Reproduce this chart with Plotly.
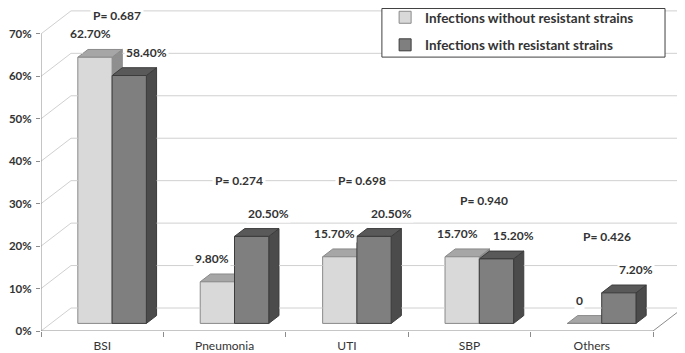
import plotly.graph_objects as go

# ---------------- data ----------------
categories = ["BSI", "Pneumonia", "UTI", "SBP", "Others"]
without_resistant = [62.7, 9.8, 15.7, 15.7, 0.0]
with_resistant = [58.4, 20.5, 20.5, 15.2, 7.2]
labels_without = ["62.70%", "9.80%", "15.70%", "15.70%", "0"]
labels_with = ["58.40%", "20.50%", "20.50%", "15.20%", "7.20%"]
p_values = ["0.687", "0.274", "0.698", "0.940", "0.426"]
y_ticks = [0, 10, 20, 30, 40, 50, 60, 70]
series_names = ["Infections without resistant strains", "Infections with resistant strains"]

# ---------------- 3-D look (pseudo perspective) ----------------
DX = 0.245    # depth offset along x (category units)
DY = 5.42     # depth offset along y (percent units)
F0, F1 = 0.33, 0.67   # bar front / back depth fraction
W = 0.28      # bar width
YMAX = 76.1
FONT = "Lato"
xs = list(range(len(categories)))
x_lo, x_hi = -0.5, len(categories) - 0.5
bd = F1 - F0
ex, ey = bd * DX, bd * DY

styles = [
    dict(front="#d9d9d9", top="#a6a6a6", side="#8f8f8f", line="#8a8a8a", offset=-W + F0 * DX, shift=-10),
    dict(front="#7f7f7f", top="#595959", side="#4b4b4b", line="#3c3c3c", offset=F0 * DX, shift=12),
]
series_values = [without_resistant, with_resistant]
series_labels = [labels_without, labels_with]

fig = go.Figure()
shapes = []
GRID = "#d0d0d0"
AXIS = "#8c8c8c"


def poly(pts, close=True):
    return "M " + " L ".join(f"{px},{py}" for px, py in pts) + (" Z" if close else "")


# bar geometry (front face rect, in data units)
bars = []
for i, xc in enumerate(xs):
    for s, st in enumerate(styles):
        v = series_values[s][i]
        xl = xc + st["offset"]
        bars.append(dict(xl=xl, xr=xl + W, b=F0 * DY, t=v + F0 * DY, st=st))

# back wall grid lines: only the parts not hidden behind the bars
for v in y_ticks:
    h = v + DY
    cover = []
    for bar in bars:
        smin = max(0.0, (h - bar["t"]) / ey)
        smax = min(1.0, (h - bar["b"]) / ey)
        if smin <= smax:
            cover.append((bar["xl"] + smin * ex, bar["xr"] + smax * ex))
    cover.sort()
    start = x_lo + DX
    for a, c in cover:
        if a > start:
            shapes.append(dict(type="line", xref="x", yref="y", layer="above",
                               x0=start, x1=a, y0=h, y1=h, line=dict(color=GRID, width=1)))
        start = max(start, c)
    if start < x_hi + DX:
        shapes.append(dict(type="line", xref="x", yref="y", layer="above",
                           x0=start, x1=x_hi + DX, y0=h, y1=h, line=dict(color=GRID, width=1)))
    # left wall diagonal
    shapes.append(dict(type="line", xref="x", yref="y", layer="above",
                       x0=x_lo, y0=v, x1=x_lo + DX, y1=v + DY, line=dict(color=GRID, width=1)))

# front axis lines and floor right edge
axis_path = poly([(x_lo, max(y_ticks)), (x_lo, 0), (x_hi, 0), (x_hi + DX, DY)], close=False)
shapes.append(dict(type="path", xref="x", yref="y", layer="above", path=axis_path,
                   line=dict(color=AXIS, width=1)))

# legend frame
shapes.append(dict(type="rect", xref="paper", yref="paper", layer="above",
                   x0=0.531, x1=0.972, y0=0.848, y1=0.9985,
                   fillcolor="white", line=dict(color="#404040", width=1)))

# bar top and side faces
for bar in bars:
    xl, xr, b, t, st = bar["xl"], bar["xr"], bar["b"], bar["t"], bar["st"]
    top = [(xl, t), (xr, t), (xr + ex, t + ey), (xl + ex, t + ey)]
    side = [(xr, b), (xr, t), (xr + ex, t + ey), (xr + ex, b + ey)]
    shapes.append(dict(type="path", xref="x", yref="y", layer="between", path=poly(side),
                       fillcolor=st["side"], line=dict(color=st["line"], width=1)))
    shapes.append(dict(type="path", xref="x", yref="y", layer="between", path=poly(top),
                       fillcolor=st["top"], line=dict(color=st["line"], width=1)))

for s, st in enumerate(styles):
    fig.add_trace(go.Bar(
        x=xs, y=series_values[s], base=F0 * DY, offset=st["offset"], width=W,
        name=series_names[s], legendgroup=f"g{s}",
        marker=dict(color=st["front"], line=dict(color=st["line"], width=1)),
        hoverinfo="skip",
    ))

annotations = []
for s, st in enumerate(styles):
    for i, xc in enumerate(xs):
        v = series_values[s][i]
        annotations.append(dict(
            x=xc + st["offset"] + W / 2 + ex / 2, y=v + F1 * DY, xref="x", yref="y",
            text=series_labels[s][i], showarrow=False, yanchor="bottom", yshift=6, xshift=st["shift"],
            font=dict(family=FONT, size=12, color="#333333", weight="bold"),
            bgcolor="white", borderpad=1))
for i, xc in enumerate(xs):
    top_v = max(without_resistant[i], with_resistant[i])
    annotations.append(dict(
        x=xc + 0.12, y=min(top_v + 15, YMAX - 1.7), xref="x", yref="y",
        text=f"P= {p_values[i]}", showarrow=False,
        font=dict(family=FONT, size=12, color="#333333", weight="bold"),
        bgcolor="white", borderpad=2))

fig.update_layout(
    width=677, height=345,
    margin=dict(l=33, r=2, t=0, b=22, autoexpand=False),
    paper_bgcolor="white", plot_bgcolor="white",
    barmode="overlay",
    shapes=shapes, annotations=annotations,
    showlegend=True,
    legend=dict(x=0.536, y=1.0186, xanchor="left", yanchor="top",
                bgcolor="rgba(0,0,0,0)", borderwidth=0,
                font=dict(family=FONT, size=13.5, color="#333333", weight="bold"),
                tracegroupgap=7, traceorder="grouped"),
    xaxis=dict(range=[x_lo, x_hi + DX], tickmode="array", tickvals=xs, ticktext=categories,
               showgrid=False, zeroline=False, showline=False, ticks="", automargin=False,
               minor=dict(ticks="outside", tick0=-0.5, dtick=1, ticklen=5, tickcolor=AXIS, showgrid=False),
               ticklabelstandoff=6,
               tickfont=dict(family=FONT, size=12, color="#333333")),
    yaxis=dict(range=[0, YMAX], tickmode="array", tickvals=y_ticks,
               ticktext=[f"{v}%" for v in y_ticks], automargin=False,
               showgrid=False, zeroline=False, showline=False,
               ticks="outside", ticklen=4, tickcolor=AXIS, ticklabelstandoff=2,
               tickfont=dict(family=FONT, size=11.5, color="#333333", weight="bold")),
    font=dict(family=FONT),
)

fig.write_html("out.html")
